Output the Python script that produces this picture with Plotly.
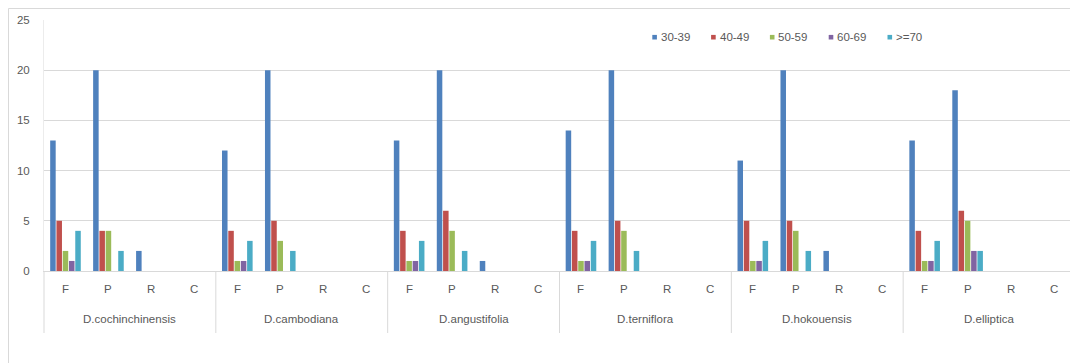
import plotly.graph_objects as go

species = ["D.cochinchinensis", "D.cambodiana", "D.angustifolia",
           "D.terniflora", "D.hokouensis", "D.elliptica"]
sites = ["F", "P", "R", "C"]
series_names = ["30-39", "40-49", "50-59", "60-69", ">=70"]
colors = ["#4F81BD", "#C0504D", "#9BBB59", "#8064A2", "#4BACC6"]

# values per series, ordered species x (F, P, R, C)
v30_39 = [13, 20, 2, 0,  12, 20, 0, 0,  13, 20, 1, 0,  14, 20, 0, 0,  11, 20, 2, 0,  13, 18, 0, 0]
v40_49 = [5, 4, 0, 0,    4, 5, 0, 0,    4, 6, 0, 0,    4, 5, 0, 0,    5, 5, 0, 0,    4, 6, 0, 0]
v50_59 = [2, 4, 0, 0,    1, 3, 0, 0,    1, 4, 0, 0,    1, 4, 0, 0,    1, 4, 0, 0,    1, 5, 0, 0]
v60_69 = [1, 0, 0, 0,    1, 0, 0, 0,    1, 0, 0, 0,    1, 0, 0, 0,    1, 0, 0, 0,    1, 2, 0, 0]
v70 = [4, 2, 0, 0,       3, 2, 0, 0,    3, 2, 0, 0,    3, 2, 0, 0,    3, 2, 0, 0,    3, 2, 0, 0]
series_values = [v30_39, v40_49, v50_59, v60_69, v70]

outer = [s for s in species for _ in sites]
inner = [t for _ in species for t in sites]
n_cat = len(outer)

OFF = 8  # page body margin of the html output
PW, PH = 1078, 363  # page size to match
W, H = PW - OFF, PH - OFF
L, R, T, B = 44 - OFF, 3, 20 - OFF, PH - 271
pw, ph = W - L - R, H - T - B

def px_x(px):
    return (px - OFF - L) / pw

def px_y(py):
    return (H - B - (py - OFF)) / ph

def cat_x(idx):
    # category index -> paper fraction (axis range is [-0.5, n_cat - 0.5])
    return (idx + 0.5) / n_cat

TXT = "#595959"
GRID = "#d9d9d9"
FONT = "Liberation Sans, Arial, sans-serif"

fig = go.Figure()
for name, vals, col in zip(series_names, series_values, colors):
    fig.add_trace(go.Bar(x=[outer, inner], y=vals, name=name,
                         marker=dict(color=col, line=dict(width=0)),
                         showlegend=False))

shapes = []
annotations = []
# frame around the chart (top and left edges)
shapes.append(dict(type="line", xref="paper", yref="paper",
                   x0=px_x(8.5), x1=px_x(1078), y0=px_y(8.5), y1=px_y(8.5),
                   line=dict(color=GRID, width=1)))
shapes.append(dict(type="line", xref="paper", yref="paper",
                   x0=px_x(8.5), x1=px_x(8.5), y0=px_y(8.5), y1=px_y(363),
                   line=dict(color=GRID, width=1)))

# category labels and group dividers
for i, sp in enumerate(species):
    for j, st in enumerate(sites):
        idx = i * len(sites) + j
        annotations.append(dict(xref="paper", yref="paper", x=cat_x(idx), y=px_y(288.5),
                                xanchor="center", yanchor="middle", showarrow=False,
                                text=st, font=dict(family=FONT, size=11.5, color=TXT)))
    annotations.append(dict(xref="paper", yref="paper",
                            x=cat_x(i * len(sites) + (len(sites) - 1) / 2), y=px_y(318.5),
                            xanchor="center", yanchor="middle", showarrow=False,
                            text=sp, font=dict(family=FONT, size=11.5, color=TXT)))
for k in range(len(species) + 1):
    xd = cat_x(k * len(sites) - 0.5)
    shapes.append(dict(type="line", xref="paper", yref="paper",
                       x0=xd, x1=xd, y0=px_y(271), y1=px_y(333),
                       line=dict(color=GRID, width=1)))

# legend (squares + labels)
for i, (name, col) in enumerate(zip(series_names, colors)):
    sx = 652.3 + 58.8 * i
    shapes.append(dict(type="rect", xref="paper", yref="paper",
                       x0=px_x(sx), x1=px_x(sx + 4.6),
                       y0=px_y(39.5), y1=px_y(34.9),
                       fillcolor=col, line=dict(width=0)))
    annotations.append(dict(xref="paper", yref="paper", x=px_x(sx + 6.5), y=px_y(37.2),
                            xanchor="left", yanchor="middle", showarrow=False,
                            text=name, font=dict(family=FONT, size=11.5, color=TXT)))

fig.update_layout(
    width=W, height=H,
    margin=dict(l=L, r=R, t=T, b=B, pad=0),
    paper_bgcolor="white", plot_bgcolor="white",
    barmode="group", bargap=0.27, bargroupgap=0.12,
    font=dict(family=FONT, size=11.5, color=TXT),
    shapes=shapes, annotations=annotations,
    showlegend=False,
)
fig.update_xaxes(
    type="multicategory", range=[-0.5, n_cat - 0.5],
    showline=True, linecolor=GRID, linewidth=1,
    showdividers=False, showticklabels=False,
    showgrid=False, ticks="",
)
fig.update_yaxes(
    range=[0, 25], dtick=5, showgrid=True, gridcolor=GRID, gridwidth=1,
    zeroline=False, showline=True, linecolor="#ececec", linewidth=1,
    ticks="", ticklabelstandoff=11,
    tickfont=dict(family=FONT, size=11.5, color=TXT),
)

fig.write_html("out.html")
